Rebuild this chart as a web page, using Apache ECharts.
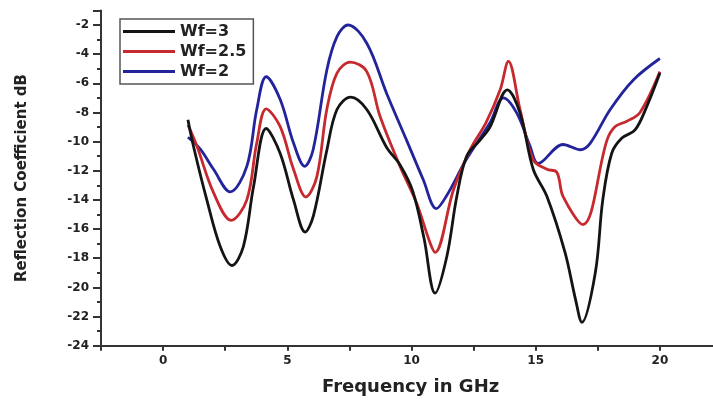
<!DOCTYPE html>
<html>
<head>
<meta charset="utf-8">
<script src="https://cdn.jsdelivr.net/npm/echarts@6/dist/echarts.min.js"></script>
<style>
    html, body {margin: 0; padding: 0; background: #fff;}
    #chart1 {width: 713px; height: 400px;}
</style>
</head>
<body>
<div id="chart1"></div>
<script>
// Wf=3 (black)
var freq3 = [1.0, 1.22, 1.76, 2.3, 2.77, 3.23, 3.64, 4.15, 4.71, 5.25, 5.72, 6.05, 6.59, 7.0, 7.55, 8.2, 9.0, 9.54, 10.05, 10.5, 10.95,
    11.42, 11.82, 12.22, 12.76, 13.16, 13.86, 14.37, 14.9, 15.45, 16.18, 16.6, 16.86, 17.4, 17.7, 18.06, 18.47, 19.0, 19.47, 20.0];
var db3 = [-8.5, -10.3, -14.0, -17.2, -18.5, -17.2, -13.1, -9.1, -10.8, -14.0, -16.2, -15.1, -10.6, -7.8, -6.95, -7.8, -10.4, -11.6, -13.4, -16.6, -20.4,
    -17.9, -13.8, -11.0, -9.9, -9.0, -6.45, -8.05, -11.9, -13.75, -17.6, -20.8, -22.4, -19.0, -14.0, -10.8, -9.76, -9.2, -7.6, -5.3];

// Wf=2.5 (red)
var freq25 = [1.0, 1.36, 2.03, 2.74, 3.37, 3.77, 4.15, 4.71, 5.25, 5.75, 6.19, 6.59, 7.0, 7.53, 8.2, 8.74, 9.54, 10.2, 10.75, 10.95,
    11.69, 12.36, 13.0, 13.57, 13.9, 14.37, 14.9, 15.45, 15.85, 16.1, 16.9, 17.87, 18.2, 18.67, 19.2, 20.0];
var db25 = [-8.85, -10.3, -13.5, -15.4, -14.0, -10.1, -7.75, -8.96, -11.9, -13.8, -12.4, -7.8, -5.3, -4.55, -5.2, -8.3, -11.7, -14.2, -16.95, -17.6,
    -13.3, -10.56, -8.7, -6.45, -4.5, -7.8, -11.25, -11.9, -12.1, -13.75, -15.7, -9.9, -8.97, -8.6, -8.0, -5.2];

// Wf=2 (blue)
var freq2 = [1.0, 1.49, 2.03, 2.7, 3.37, 3.77, 4.15, 4.71, 5.25, 5.7, 6.04, 6.59, 7.0, 7.45, 8.2, 9.0, 9.8, 10.47, 11.0,
    11.4, 12.2, 13.16, 13.7, 14.24, 14.77, 15.1, 16.1, 16.8, 17.2, 18.0, 18.93, 20.0];
var db2 = [-9.7, -10.5, -11.9, -13.45, -11.7, -7.8, -5.55, -7.1, -10.1, -11.7, -10.56, -5.1, -2.8, -2.0, -3.25, -6.7, -9.9, -12.6, -14.6,
    -13.75, -11.25, -8.7, -7.0, -8.05, -10.3, -11.5, -10.2, -10.56, -10.1, -7.8, -5.77, -4.3];

var seriesNames = ['Wf=3', 'Wf=2.5', 'Wf=2'];
var seriesColors = ['#141414', '#c62a2f', '#23239c'];

function pairs(xs, ys) {
    var d = [];
    for (var i = 0; i < xs.length; i++) {
        d.push([xs[i], ys[i]]);
    }
    return d;
}

var font = 'DejaVu Sans';
var myChart1 = echarts.init(document.getElementById('chart1'));

function makeSeries(i, data) {
    return {
        name: seriesNames[i],
        type: 'line',
        data: data,
        symbol: 'none',
        smooth: 0.35,
        lineStyle: {color: seriesColors[i], width: 2.8},
        itemStyle: {color: seriesColors[i]},
        z: 3 - i
    };
}

var option1 = {
    animation: false,
    backgroundColor: '#fff',
    title: {
        text: 'Frequency in GHz',
        left: 322,
        top: 378,
        padding: 0,
        textStyle: {fontFamily: font, fontWeight: 'bold', fontSize: 18, color: '#222'}
    },
    legend: {
        data: seriesNames,
        orient: 'vertical',
        left: 120,
        top: 19,
        padding: [4, 7, 4, 3],
        icon: 'rect',
        itemWidth: 52,
        itemHeight: 3,
        itemGap: 3,
        borderColor: '#555',
        borderWidth: 1.5,
        textStyle: {fontFamily: font, fontWeight: 'bold', fontSize: 16, lineHeight: 17, color: '#222'}
    },
    grid: {
        left: 101,
        right: -9,
        top: 10.4,
        bottom: 54.3,
        containLabel: false,
        outerBoundsMode: 'none'
    },
    xAxis: {
        type: 'value',
        min: -2.5,
        max: 22.5,
        interval: 2.5,
        axisLine: {onZero: false, lineStyle: {color: '#333', width: 2}},
        axisTick: {show: true, length: 5, lineStyle: {color: '#333', width: 2}},
        splitLine: {show: false},
        axisLabel: {
            fontFamily: font, fontWeight: 'bold', fontSize: 12, color: '#222', margin: 9,
            formatter: function (v) { return (v % 5 === 0) ? String(v) : ''; }
        }
    },
    yAxis: {
        type: 'value',
        min: -24,
        max: -1,
        interval: 2,
        name: 'Reflection Coefficient dB',
        nameLocation: 'middle',
        nameGap: 71,
        nameTextStyle: {fontFamily: font, fontWeight: 'bold', fontSize: 15, color: '#222'},
        axisLine: {onZero: false, lineStyle: {color: '#333', width: 2}},
        axisTick: {show: true, length: 8, lineStyle: {color: '#333', width: 2}},
        minorTick: {show: true, splitNumber: 2, length: 4, lineStyle: {color: '#333', width: 2}},
        splitLine: {show: false},
        axisLabel: {
            fontFamily: font, fontWeight: 'bold', fontSize: 12, color: '#222', margin: 12,
            formatter: function (v) { return (v % 2 === 0) ? String(v) : ''; }
        }
    },
    series: [
        makeSeries(0, pairs(freq3, db3)),
        makeSeries(1, pairs(freq25, db25)),
        makeSeries(2, pairs(freq2, db2))
    ]
};

myChart1.setOption(option1);
</script>
</body>
</html>
